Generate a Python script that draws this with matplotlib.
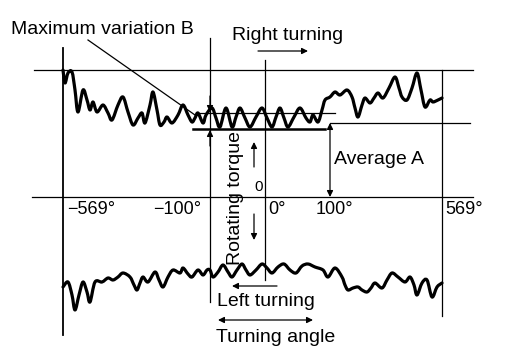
import matplotlib
matplotlib.use('Agg')
import matplotlib.pyplot as plt
from matplotlib.path import Path
from matplotlib.patches import PathPatch

# upper (right turning) torque trace in diagram units
upper_x = [63, 65, 68, 72, 75, 78, 83, 87, 90, 93, 97, 103, 108, 112, 118, 123, 128, 133,
           138, 142, 145, 150, 153, 157, 160, 164, 167, 172, 178, 183, 188, 192, 195, 198,
           203, 206, 212, 216, 220, 226, 232, 236, 240, 245, 250, 256, 262, 267, 272, 276,
           280, 284, 288, 294, 300, 306, 310, 313, 318, 322, 325, 330, 335, 340, 347, 352,
           355, 358, 362, 365, 370, 374, 378, 383, 389, 395, 399, 402, 407, 412, 417, 421,
           425, 430, 433, 438, 442]
upper_y = [70, 83, 73, 72, 90, 112, 90, 100, 110, 102, 112, 105, 113, 120, 105, 97, 112, 125,
           118, 113, 123, 105, 92, 110, 125, 122, 117, 123, 115, 105, 115, 122, 118, 113,
           123, 115, 108, 118, 127, 108, 127, 117, 108, 118, 127, 117, 108, 118, 127, 117,
           108, 118, 127, 117, 108, 118, 122, 115, 122, 110, 100, 97, 92, 95, 90, 97,
           108, 117, 105, 98, 103, 98, 93, 98, 88, 77, 88, 97, 100, 88, 73, 90,
           107, 100, 102, 100, 98]

# lower (left turning) torque trace
lower_x = [63, 68, 72, 75, 79, 83, 87, 90, 95, 102, 108, 113, 118, 123, 130, 134, 137, 140,
           143, 148, 155, 159, 163, 168, 173, 180, 183, 188, 192, 198, 203, 207, 210, 213,
           218, 223, 228, 232, 237, 242, 246, 250, 256, 262, 267, 272, 278, 284, 290, 296,
           302, 308, 315, 323, 328, 335, 342, 345, 348, 353, 358, 362, 367, 371, 375, 382,
           387, 392, 398, 405, 410, 414, 417, 422, 427, 432, 437, 442]
lower_y = [287, 282, 295, 310, 295, 282, 292, 302, 282, 282, 278, 280, 277, 273, 277, 285, 290,
           283, 277, 282, 272, 280, 287, 277, 270, 273, 268, 274, 277, 270, 275, 270, 270, 277,
           272, 265, 272, 277, 270, 264, 270, 275, 270, 264, 268, 273, 267, 264, 270, 273,
           266, 264, 267, 270, 277, 268, 277, 285, 290, 288, 287, 290, 292, 288, 283, 288,
           280, 273, 277, 282, 277, 285, 295, 283, 280, 297, 287, 283]

# angle tick labels under the zero line
tick_labels = ['\u2212569\u00b0', '\u2212100\u00b0', '0\u00b0', '100\u00b0', '569\u00b0']
tick_pos = [67, 153, 268, 316, 445]


def smooth_path(xs, ys):
    # catmull-rom through the read points, drawn as cubic beziers
    pts = list(zip(xs, ys))
    n = len(pts)
    verts = [pts[0]]
    codes = [Path.MOVETO]
    for i in range(n - 1):
        p0 = pts[max(i - 1, 0)]
        p1 = pts[i]
        p2 = pts[i + 1]
        p3 = pts[min(i + 2, n - 1)]
        c1 = (p1[0] + (p2[0] - p0[0]) / 6.0, p1[1] + (p2[1] - p0[1]) / 6.0)
        c2 = (p2[0] - (p3[0] - p1[0]) / 6.0, p2[1] - (p3[1] - p1[1]) / 6.0)
        verts += [c1, c2, p2]
        codes += [Path.CURVE4] * 3
    return Path(verts, codes)


plt.rcParams['font.family'] = ['Liberation Sans', 'DejaVu Sans']

fig = plt.figure(figsize=(5.12, 3.64), dpi=100)
ax = fig.add_axes([0, 0, 1, 1])
ax.set_xlim(0, 512)
ax.set_ylim(364, 0)
ax.axis('off')

k = 'black'
thin = 0.9

# frame lines
ax.plot([63, 63], [48, 335], color=k, lw=1.3)
ax.plot([34, 473], [70, 70], color=k, lw=thin)
ax.plot([32, 473], [197, 197], color=k, lw=thin)
ax.plot([265, 265], [60, 280], color=k, lw=thin)
ax.plot([210, 210], [38, 302], color=k, lw=thin)
ax.plot([442, 442], [70, 316], color=k, lw=thin)
ax.plot([330, 470], [123, 123], color=k, lw=thin)
ax.plot([200, 335], [113, 113], color=k, lw=thin)
ax.plot([193, 325], [129, 129], color=k, lw=1.8)
ax.plot([88, 195], [40, 115], color=k, lw=thin)

# torque traces
for xs, ys in [(upper_x, upper_y), (lower_x, lower_y)]:
    ax.add_patch(PathPatch(smooth_path(xs, ys), fill=False, edgecolor=k, lw=2.3,
                           joinstyle='round', capstyle='round'))

arr = dict(arrowstyle='-|>', color=k, lw=thin, mutation_scale=9, shrinkA=0, shrinkB=0)
dbl = dict(arrowstyle='<|-|>', color=k, lw=thin, mutation_scale=9, shrinkA=0, shrinkB=0)

ax.annotate('', xy=(308, 51), xytext=(258, 51), arrowprops=arr)
ax.annotate('', xy=(232, 286), xytext=(277, 286), arrowprops=arr)
ax.annotate('', xy=(218, 320), xytext=(313, 320), arrowprops=dbl)
ax.annotate('', xy=(330, 123), xytext=(330, 197), arrowprops=dbl)
ax.annotate('', xy=(210, 112), xytext=(210, 96), arrowprops=arr)
ax.annotate('', xy=(210, 130), xytext=(210, 146), arrowprops=arr)
ax.annotate('', xy=(254, 142), xytext=(254, 167), arrowprops=arr)
ax.annotate('', xy=(254, 240), xytext=(254, 214), arrowprops=arr)

fs = 14
ax.text(11, 29, 'Maximum variation B', fontsize=fs, va='center', ha='left')
ax.text(232, 36, 'Right turning', fontsize=fs, va='center', ha='left')
ax.text(334, 160, 'Average A', fontsize=fs, va='center', ha='left')
ax.text(235, 198, 'Rotating torque', fontsize=fs, va='center', ha='center', rotation=90)
ax.text(259, 187, '0', fontsize=11, va='center', ha='center')
ax.text(217, 302, 'Left turning', fontsize=fs, va='center', ha='left')
ax.text(216, 337, 'Turning angle', fontsize=fs, va='center', ha='left')
for x, lab in zip(tick_pos, tick_labels):
    ax.text(x, 210, lab, fontsize=13, va='center', ha='left')

fig.savefig('out.png', dpi=100)
